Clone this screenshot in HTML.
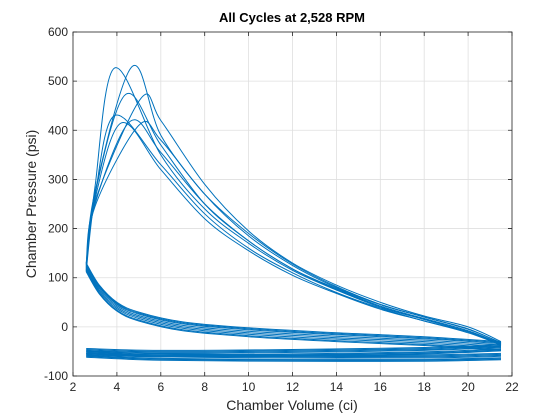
<!DOCTYPE html>
<html><head><meta charset="utf-8">
<style>
body{margin:0;background:#fff;}
svg{display:block;font-family:"Liberation Sans",Arial,sans-serif;}
</style></head>
<body>
<svg id="chart" width="560" height="420" viewBox="0 0 560 420">
<rect x="0" y="0" width="560" height="420" fill="#fff"/>
<rect x="73" y="32" width="439" height="344" fill="#fff"/>
<g id="grid"></g>
<g id="series"></g>
<rect x="73" y="32" width="439" height="344" fill="none" stroke="#262626" stroke-width="0.8"/>
<g id="ticks"></g>
<text x="292" y="22" text-anchor="middle" font-size="13" font-weight="bold" fill="#000">All Cycles at 2,528 RPM</text>
<text x="292" y="410" text-anchor="middle" font-size="14" fill="#262626">Chamber Volume (ci)</text>
<text x="36" y="204" text-anchor="middle" font-size="14" fill="#262626" transform="rotate(-90 36 204)">Chamber Pressure (psi)</text>
</svg>
<script>
const xTicks=[2,4,6,8,10,12,14,16,18,20,22];
const yTicks=[-100,0,100,200,300,400,500,600];
const expV=[6,8,10,12,14,16,18,20,21.5];
const peakV=[3.9,4.7,4.4,5.1,3.9,4.6,5.0,4.2];
const peakP=[527,530,473,465,430,418,410,415];
const riseP=[285,275,270,255,265,250,245,260];
const exp1=[350,240,170,115,75,40,15,-10,-35];
const exp2=[390,270,185,125,80,45,20,-5,-32];
const exp3=[370,250,175,118,78,42,17,-8,-36];
const exp4=[420,290,195,130,85,50,22,0,-30];
const exp5=[330,230,160,110,70,38,12,-10,-38];
const exp6=[355,250,175,118,76,42,16,-8,-34];
const exp7=[380,270,190,128,82,46,20,-4,-33];
const exp8=[320,220,155,105,68,36,12,-12,-37];
const expAll=[exp1,exp2,exp3,exp4,exp5,exp6,exp7,exp8];
const compV=[21.5,18,14,10,7,5,4,3.2,2.6];
const compP=[-40,-30,-22,-12,0,20,40,75,120];
const compOff=[0,6,-6,10,-8,3,-3,8];
const exhV=[21.5,18,12,6,2.6];
const exhP=[-42,-48,-52,-54,-50];
const intakeP=[-60,-63,-63,-61,-55];
const lowOff=[0,-5,4,-7,6,-3,2,-5];

const X0=73,X1=512,Y0=376,Y1=32;
const sx=v=>X0+(v-2)/(22-2)*(X1-X0);
const sy=p=>Y0-(p+100)/700*(Y0-Y1);
const NS="http://www.w3.org/2000/svg";
const grid=document.getElementById('grid'),ticks=document.getElementById('ticks'),ser=document.getElementById('series');
function mk(t,a,par){const e=document.createElementNS(NS,t);for(const k in a)e.setAttribute(k,a[k]);par.appendChild(e);return e;}
xTicks.forEach(v=>{
  const l=mk('line',{x1:sx(v),x2:sx(v),y1:Y1,y2:Y0,stroke:'#dfdfdf','stroke-width':0.8},grid);
  
  
  const tk=mk('path',{d:'M'+sx(v)+','+Y0+'v-4M'+sx(v)+','+Y1+'v4',stroke:'#262626','stroke-width':0.8},ticks);
  
  
  const t=mk('text',{x:sx(v),y:Y0+15,'text-anchor':'middle','font-size':12,fill:'#262626'},ticks);
  t.textContent=v;
  
  
});
yTicks.forEach(p=>{
  const l=mk('line',{x1:X0,x2:X1,y1:sy(p),y2:sy(p),stroke:'#dfdfdf','stroke-width':0.8},grid);
  
  
  const tk=mk('path',{d:'M'+X0+','+sy(p)+'h4M'+X1+','+sy(p)+'h-4',stroke:'#262626','stroke-width':0.8},ticks);
  
  
  const t=mk('text',{x:X0-5,y:sy(p)+4,'text-anchor':'end','font-size':12,fill:'#262626'},ticks);
  t.textContent=p;
  
  
});
function smooth(pts){
  let d='M'+pts[0][0].toFixed(1)+','+pts[0][1].toFixed(1);
  for(let i=0;i<pts.length-1;i++){
    const p0=pts[Math.max(i-1,0)],p1=pts[i],p2=pts[i+1],p3=pts[Math.min(i+2,pts.length-1)];
    const c1=[p1[0]+(p2[0]-p0[0])/6,p1[1]+(p2[1]-p0[1])/6];
    const c2=[p2[0]-(p3[0]-p1[0])/6,p2[1]-(p3[1]-p1[1])/6];
    d+='C'+c1[0].toFixed(1)+','+c1[1].toFixed(1)+' '+c2[0].toFixed(1)+','+c2[1].toFixed(1)+' '+p2[0].toFixed(1)+','+p2[1].toFixed(1);
  }
  return d;
}
peakV.forEach((pv,i)=>{
  const pts=[];
  exhV.forEach((v,j)=>pts.push([sx(v),sy(intakeP[j]+lowOff[i])]));
  const comp=[];
  compV.forEach((v,j)=>comp.push([sx(v),sy(compP[j]+compOff[i])]));
  const up=[[sx(2.6),sy(compP[8]+compOff[i])],[sx(3.0),sy(riseP[i])],[sx(pv),sy(peakP[i])]];
  expV.forEach((v,j)=>up.push([sx(v),sy(expAll[i][j])]));
  const exh=[];
  exhV.forEach((v,j)=>exh.push([sx(v),sy(exhP[j]+lowOff[i])]));
  [pts,comp,up,exh].forEach(seg=>{
    const e=mk('path',{d:smooth(seg),fill:'none',stroke:'#0072bd','stroke-width':1},ser);
    
    
  });
});
</script>
</body></html>
